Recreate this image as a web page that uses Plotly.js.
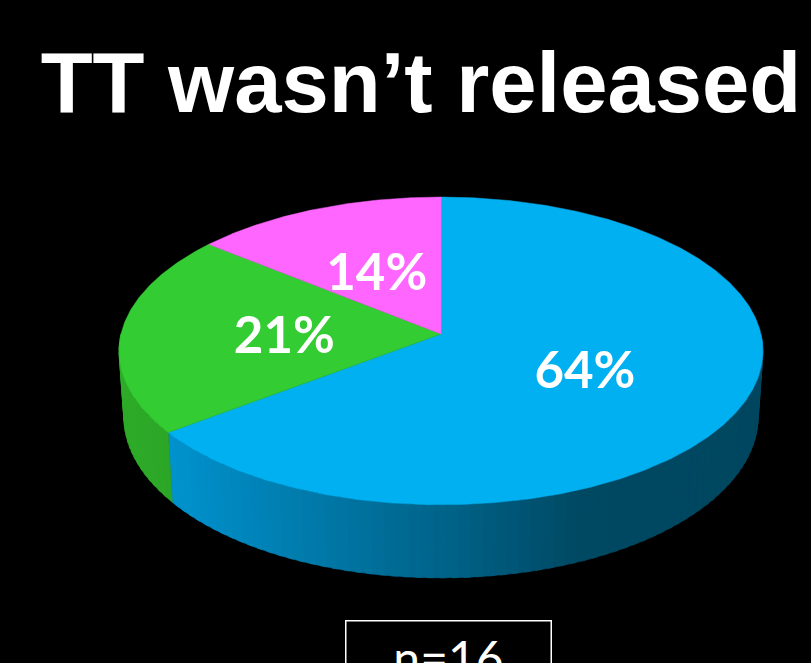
<!DOCTYPE html>
<html>
<head>
<meta charset="utf-8">
<script src="https://cdn.plot.ly/plotly-3.0.1.min.js"></script>
<style>html,body{margin:0;padding:0;background:#000;}#chart{width:811px;height:663px;}</style>
</head>
<body>
<div id="chart"></div>
<script>
// ---- data ----
const categories = ['Slice 1', 'Slice 2', 'Slice 3'];
const sliceValues = [64, 21, 14];
const sliceLabels = ['64%', '21%', '14%'];
const sampleNote = 'n=16';
const chartTitle = 'TT wasn\u2019t released';

// ---- style ----
const topColors = ['#00B0F0', '#33CC33', '#FF66FF'];
const W = 811, H = 663;
const CX = 441, CY = 334, A = 320, B = 152, K = 0.11, D = 65;
const LABEL_DY = 7;

function proj(theta, r, bottom) {
  const t = theta * Math.PI / 180;
  const x = r * Math.sin(t), yn = r * Math.cos(t);
  const w = 1 + K * yn;
  let sx = CX + A * x / w, sy = CY - B * yn / w;
  if (bottom) { sx = CX + (sx - CX) * 0.985; sy += D / w; }
  return [sx, sy];
}

// gradient stops for the side (screen x -> rgb)
const blueStops = [[160, [0, 148, 208]], [330, [0, 118, 165]], [450, [0, 98, 136]], [580, [0, 73, 99]], [770, [0, 70, 95]]];
const greenStops = [[110, [46, 172, 40]], [175, [44, 165, 38]]];
function grad(stops, x) {
  if (x <= stops[0][0]) return stops[0][1];
  for (let i = 1; i < stops.length; i++) {
    if (x <= stops[i][0]) {
      const f = (x - stops[i - 1][0]) / (stops[i][0] - stops[i - 1][0]);
      return stops[i - 1][1].map((c, j) => Math.round(c + f * (stops[i][1][j] - c)));
    }
  }
  return stops[stops.length - 1][1];
}
const sideStops = [blueStops, greenStops, greenStops];

const total = sliceValues.reduce((a, b) => a + b, 0);
const ranges = [];
let acc = 0;
sliceValues.forEach(v => { const a0 = acc / total * 360; acc += v; ranges.push([a0, acc / total * 360]); });

const traces = [];
// side strips (front half only)
ranges.forEach((rg, i) => {
  const s0 = Math.max(rg[0], 90), s1 = Math.min(rg[1], 270);
  if (s1 <= s0) return;
  const n = Math.max(2, Math.ceil((s1 - s0) / 2));
  const step = (s1 - s0) / n;
  for (let k = 0; k < n; k++) {
    const t0 = s0 + step * k, t1 = Math.min(s1, s0 + step * (k + 1) + step * 0.5);
    const p = [proj(t0, 1, false), proj(t1, 1, false), proj(t1, 1, true), proj(t0, 1, true)];
    const mx = (p[0][0] + proj(s0 + step * (k + 1), 1, false)[0]) / 2;
    const c = grad(sideStops[i], mx);
    const col = 'rgb(' + c.join(',') + ')';
    traces.push({
      type: 'scatter', mode: 'lines', fill: 'toself', fillcolor: col,
      line: {color: col, width: 0.6},
      x: p.map(q => q[0]).concat([p[0][0]]), y: p.map(q => q[1]).concat([p[0][1]]),
      hoverinfo: 'skip', showlegend: false
    });
  }
});
// top faces
ranges.forEach((rg, i) => {
  const xs = [CX], ys = [CY];
  const n = Math.ceil((rg[1] - rg[0]) / 0.5);
  for (let k = 0; k <= n; k++) {
    const p = proj(rg[0] + (rg[1] - rg[0]) * k / n, 1, false);
    xs.push(p[0]); ys.push(p[1]);
  }
  xs.push(CX); ys.push(CY);
  traces.push({
    type: 'scatter', mode: 'lines', fill: 'toself', fillcolor: topColors[i],
    line: {color: topColors[i], width: 0.5},
    x: xs, y: ys, name: categories[i], hoverinfo: 'skip', showlegend: false
  });
});
// labels
const lx = [], ly = [];
ranges.forEach(rg => { const p = proj((rg[0] + rg[1]) / 2, 0.49, false); lx.push(p[0]); ly.push(p[1] + LABEL_DY); });
traces.push({
  type: 'scatter', mode: 'text', x: lx, y: ly, text: sliceLabels,
  textposition: 'middle center',
  textfont: {family: 'Lato, "Open Sans", sans-serif', size: 51, color: '#ffffff', weight: 700},
  hoverinfo: 'skip', showlegend: false
});

const layout = {
  width: W, height: H,
  margin: {l: 0, r: 0, t: 0, b: 0},
  paper_bgcolor: '#000000', plot_bgcolor: '#000000',
  showlegend: false,
  title: {
    text: chartTitle, x: 0.519, xanchor: 'center', y: 1 - 82 / H, yanchor: 'middle', yref: 'container',
    font: {family: '"Liberation Sans", Arial, sans-serif', size: 85, color: '#ffffff', weight: 700}
  },
  xaxis: {range: [0, W], visible: false, fixedrange: true},
  yaxis: {range: [H, 0], visible: false, fixedrange: true},
  annotations: [{
    text: sampleNote, xref: 'x', yref: 'y', x: 448, y: 620, xanchor: 'center', yanchor: 'top',
    showarrow: false, bordercolor: '#ffffff', borderwidth: 1.5, borderpad: 0,
    width: 204, height: 72, valign: 'middle',
    font: {family: 'Lato, "Open Sans", sans-serif', size: 48, color: '#ffffff'}
  }]
};

Plotly.newPlot('chart', traces, layout, {displayModeBar: false, staticPlot: true});
</script>
</body>
</html>
